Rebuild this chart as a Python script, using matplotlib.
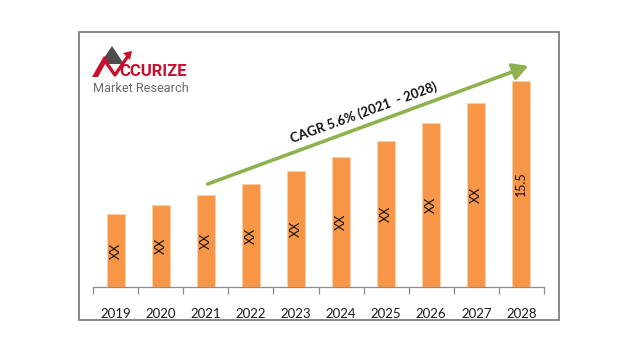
import matplotlib
matplotlib.use("Agg")
import matplotlib.pyplot as plt
from matplotlib.patches import Rectangle, Polygon, FancyArrowPatch

years = ["2019", "2020", "2021", "2022", "2023", "2024", "2025", "2026", "2027", "2028"]
values = [5.5, 6.2, 6.9, 7.75, 8.7, 9.8, 11.0, 12.35, 13.85, 15.5]
bar_labels = ["XX", "XX", "XX", "XX", "XX", "XX", "XX", "XX", "XX", "15.5"]
cagr_text = "CAGR 5.6% (2021  - 2028)"

W, H = 640, 357
fig = plt.figure(figsize=(W / 100, H / 100), dpi=100)
fig.patch.set_facecolor("white")

FONT = ["Lato", "DejaVu Sans"]

# overlay in pixel coordinates for decorations
ov = fig.add_axes([0, 0, 1, 1])
ov.set_xlim(0, W)
ov.set_ylim(H, 0)
ov.axis("off")
ov.add_patch(Rectangle((79, 32), 480, 288, fill=False, edgecolor="#7f7f7f", lw=1.3))

# main chart axes
x0, x1, ybase, ytop = 93, 544, 287, 60
ax = fig.add_axes([x0 / W, (H - ybase) / H, (x1 - x0) / W, (ybase - ytop) / H])
ax.set_facecolor("none")
n = len(years)
xs = list(range(n))
ax.bar(xs, values, width=0.4, color="#F79646", edgecolor="#fbd0ae", linewidth=0.6, zorder=3)
ax.set_xlim(-0.5, n - 0.5)
ax.set_ylim(0, 15.5 * (ybase - ytop) / 206)
for s in ["top", "right", "left"]:
    ax.spines[s].set_visible(False)
ax.spines["bottom"].set_color("#8c8c8c")
ax.spines["bottom"].set_linewidth(0.9)
ax.set_yticks([])
ax.set_xticks([i - 0.5 for i in range(n + 1)])
ax.set_xticklabels([])
ax.tick_params(axis="x", direction="out", length=5, color="#8c8c8c", width=0.9)
for i, y in enumerate(years):
    ax.text(i, -0.12, y, transform=ax.get_xaxis_transform(), ha="center", va="center",
            fontsize=9.5, family=FONT, color="#1a1a1a")
for i, (v, lab) in enumerate(zip(values, bar_labels)):
    ax.text(i, v / 2, lab, rotation=90, ha="center", va="center", fontsize=9,
            family=FONT, color="#111111", zorder=4)

# CAGR arrow
arr = FancyArrowPatch((205, 185), (531, 65), arrowstyle="-|>,head_length=9,head_width=5",
                      color="#8DB24E", lw=2.6, mutation_scale=1, zorder=5)
ov.add_patch(arr)
ov.text(364, 113, cagr_text, rotation=20, ha="center", va="center", fontsize=9.5,
        fontweight="bold", family=FONT, color="#111111")

# Logo
ov.add_patch(Polygon([(112, 46), (100, 64), (124, 64)], closed=True, color="#4d4d4d", lw=0))
ov.add_patch(Polygon([(92, 77), (104, 56), (108, 59), (98, 77)], closed=True, color="#c8102e", lw=0))
ov.plot([105, 115, 128], [61, 75, 56], color="#c8102e", lw=2.4, solid_capstyle="butt")
ov.add_patch(Polygon([(132, 51), (123, 53), (130, 60)], closed=True, color="#c8102e", lw=0))
ov.text(119, 71, "CCURIZE", ha="left", va="center", fontsize=12, fontweight="bold",
        family=["Roboto", "DejaVu Sans"], color="#c8102e", fontstretch="condensed")
ov.text(93, 88, "Market Research", ha="left", va="center", fontsize=9.2,
        family=["Roboto", "DejaVu Sans"], color="#6b6b6b")

fig.savefig("out.png", dpi=100)
